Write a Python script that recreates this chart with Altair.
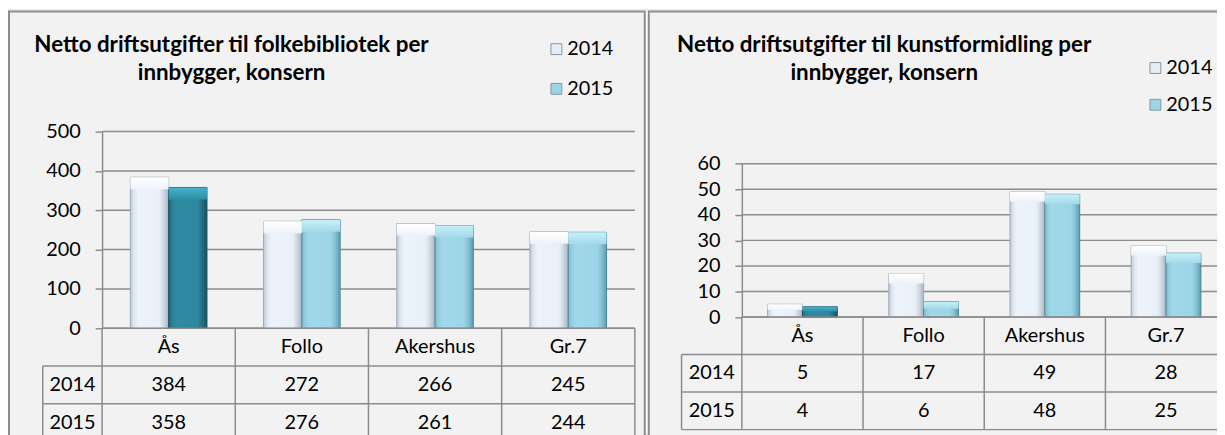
import altair as alt
import pandas as pd

# ---------------- data ----------------
categories = ["Ås", "Follo", "Akershus", "Gr.7"]
years = ["2014", "2015"]
lib_2014 = [384, 272, 266, 245]
lib_2015 = [358, 276, 261, 244]
art_2014 = [5, 17, 49, 28]
art_2015 = [4, 6, 48, 25]
lib_ticks = [0, 100, 200, 300, 400, 500]
art_ticks = [0, 10, 20, 30, 40, 50, 60]
lib_title = ["Netto driftsutgifter til folkebibliotek per", "innbygger, konsern"]
art_title = ["Netto driftsutgifter til kunstformidling per", "innbygger, konsern"]

# ---------------- style ----------------
W, H = 1217, 427
FONT = "Lato"
GRID = "#8c8c8c"
BG = "#f2f2f2"
HL = "datum.cat === 'Ås' && datum.year === '2015'"
Y15 = "datum.year === '2015'"


def hgrad(stops):
    return {"gradient": "linear", "x1": 0, "y1": 0, "x2": 1, "y2": 0,
            "stops": [{"offset": o, "color": c} for o, c in stops]}


def vgrad(stops):
    return {"gradient": "linear", "x1": 0, "y1": 0, "x2": 0, "y2": 1,
            "stops": [{"offset": o, "color": c} for o, c in stops]}


BODY_14 = hgrad([(0, "#c3ccd7"), (0.1, "#dfe7f0"), (0.2, "#edf3fa"), (0.75, "#e9f0f8"),
                 (0.86, "#d2dbe5"), (1, "#a9b4c0")])
BODY_15 = hgrad([(0, "#80bccd"), (0.1, "#96cfe1"), (0.2, "#a1d8e9"), (0.75, "#9dd5e6"),
                 (0.86, "#86c4d7"), (1, "#5d9db0")])
BODY_HL = hgrad([(0, "#24697b"), (0.1, "#2b8198"), (0.2, "#2f8ba3"), (0.75, "#2d879f"),
                 (0.86, "#25728a"), (1, "#1a5363")])
CAP_14 = vgrad([(0, "#ffffff"), (1, "#eef3f9")])
CAP_15 = vgrad([(0, "#c6f0fa"), (1, "#a3d9ea")])
CAP_HL = vgrad([(0, "#44b2cb"), (1, "#2f8ea6")])


def long_df(v14, v15):
    rows = []
    for c, a, b in zip(categories, v14, v15):
        rows.append({"cat": c, "year": "2014", "value": a})
        rows.append({"cat": c, "year": "2015", "value": b})
    return pd.DataFrame(rows)


def panel(v14, v15, ticks, x0, x1, ybase, ytop, hdr_x0, row_top, row_bot,
          legend_x, legend_y, legend_pad, cap_px):
    df = long_df(v14, v15)
    ymax = ticks[-1]
    xs = alt.Scale(domain=categories, range=[x0, x1], paddingInner=0.425, paddingOuter=0.2125)
    xo = alt.Scale(domain=years, paddingInner=0, paddingOuter=0)
    ys = alt.Scale(domain=[0, ymax], range=[ybase, ytop], nice=False, zero=True)
    y_axis = alt.Axis(values=ticks, orient="left", offset=-x0, title=None, grid=False,
                      domainColor=GRID, domainWidth=1.5, tickColor=GRID, tickWidth=1.5,
                      tickSize=7, labelPadding=15, labelFont=FONT, labelFontSize=20,
                      labelColor="#000000", zindex=1)
    X = alt.X("cat:N", scale=xs, axis=None)
    XO = alt.XOffset("year:N", scale=xo)

    grid = alt.Chart(pd.DataFrame({"t": ticks})).mark_rule(color=GRID, strokeWidth=1.5).encode(
        y=alt.Y("t:Q", scale=ys, axis=y_axis),
        x=alt.value(x0), x2=alt.value(x1))

    base = alt.Chart(df).mark_bar().encode(
        x=X, xOffset=XO, y=alt.Y("value:Q", scale=ys, axis=y_axis),
        color=alt.Color("year:N", scale=alt.Scale(domain=years, range=["#e6edf5", "#9dd5e6"]),
                        legend=alt.Legend(orient="none", legendX=legend_x, legendY=legend_y,
                                          title=None, direction="vertical", symbolType="square",
                                          symbolSize=120, symbolStrokeColor="#8496a3",
                                          symbolStrokeWidth=1, labelFont=FONT, labelFontSize=20,
                                          labelColor="#000000", rowPadding=legend_pad,
                                          labelOffset=1, padding=0, zindex=1)))

    body = alt.Chart(df).mark_bar(strokeWidth=1).encode(
        x=X, xOffset=XO, y=alt.Y("value:Q", scale=ys, axis=y_axis),
        color=alt.value(BODY_14, condition=[{"test": HL, "value": BODY_HL},
                                            {"test": Y15, "value": BODY_15}]),
        stroke=alt.value("#9ba8b5", condition=[{"test": HL, "value": "#1d4f5c"},
                                               {"test": Y15, "value": "#4f8797"}]))

    capu = cap_px * ymax / (ybase - ytop)
    cap = alt.Chart(df).transform_calculate(
        cap=f"max(datum.value - {capu}, datum.value * 0.55)"
    ).mark_bar().encode(
        x=X, xOffset=XO, y=alt.Y("value:Q", scale=ys, axis=y_axis), y2="cap:Q",
        color=alt.value(CAP_14, condition=[{"test": HL, "value": CAP_HL},
                                           {"test": Y15, "value": CAP_15}]))

    plot = alt.layer(grid, base, body, cap)

    # ---- data table under the plot ----
    step = (x1 - x0) / len(categories)
    hdr = (x0 - hdr_x0) / step
    n = len(categories)
    txs = alt.Scale(domain=[-hdr, n], range=[hdr_x0, x1], nice=False, zero=False)
    tys = alt.Scale(domain=[0, 3], range=[row_top, row_bot], nice=False, zero=False)
    lines = [{"xa": 0, "xb": n, "ya": 0, "yb": 0}]
    for r in (1, 2, 3):
        lines.append({"xa": -hdr, "xb": n, "ya": r, "yb": r})
    for c in range(n + 1):
        lines.append({"xa": c, "xb": c, "ya": 0, "yb": 3})
    lines.append({"xa": -hdr, "xb": -hdr, "ya": 1, "yb": 3})
    cells = []
    for i, c in enumerate(categories):
        cells.append({"cx": i + 0.5, "cy": 0.5, "label": c})
        cells.append({"cx": i + 0.5, "cy": 1.5, "label": str(v14[i])})
        cells.append({"cx": i + 0.5, "cy": 2.5, "label": str(v15[i])})
    for j, yv in enumerate(years):
        cells.append({"cx": -hdr / 2, "cy": 1.5 + j, "label": yv})

    rules = alt.Chart(pd.DataFrame(lines)).mark_rule(color=GRID, strokeWidth=1.5).encode(
        x=alt.X("xa:Q", scale=txs, axis=None), x2="xb:Q",
        y=alt.Y("ya:Q", scale=tys, axis=None), y2="yb:Q")
    texts = alt.Chart(pd.DataFrame(cells)).mark_text(
        font=FONT, fontSize=20, color="#000000", baseline="middle", align="center").encode(
        x=alt.X("cx:Q", scale=txs, axis=None),
        y=alt.Y("cy:Q", scale=tys, axis=None),
        text="label:N")
    table = alt.layer(rules, texts)
    return plot, table


one = pd.DataFrame({"k": [0]})


def frame(xa, xb):
    return alt.Chart(one).mark_rect(fill=BG, stroke="#8d8d8d", strokeWidth=2).encode(
        x=alt.value(xa), x2=alt.value(xb), y=alt.value(2), y2=alt.value(470))


def title(lines, cx):
    return alt.Chart(one).mark_text(font=FONT, fontSize=22.5, fontWeight="bold", color="#000000",
                                    align="center", baseline="middle", lineHeight=28).encode(
        x=alt.value(cx), y=alt.value(36), text=alt.value(lines))


p1_plot, p1_table = panel(lib_2014, lib_2015, lib_ticks, 94.7, 631, 321, 123, 35, 321, 435,
                          542, 30, 20, 12)
p2_plot, p2_table = panel(art_2014, art_2015, art_ticks, 738.7, 1226.7, 309.7, 155.3, 678,
                          309.7, 423, 1145, 49, 17, 10)

chart = alt.layer(
    frame(1, 641), frame(645, 1240),
    p1_plot, p1_table, p2_plot, p2_table,
    title(lib_title, 225), title(art_title, 882),
).resolve_scale(
    x="independent", y="independent", color="independent", xOffset="independent"
).properties(
    width=W, height=H, padding=0, autosize=alt.AutoSizeParams(type="none")
).configure_view(stroke=None).configure(font=FONT)

chart.save("out.html", embed_options={"renderer": "svg", "actions": False})
